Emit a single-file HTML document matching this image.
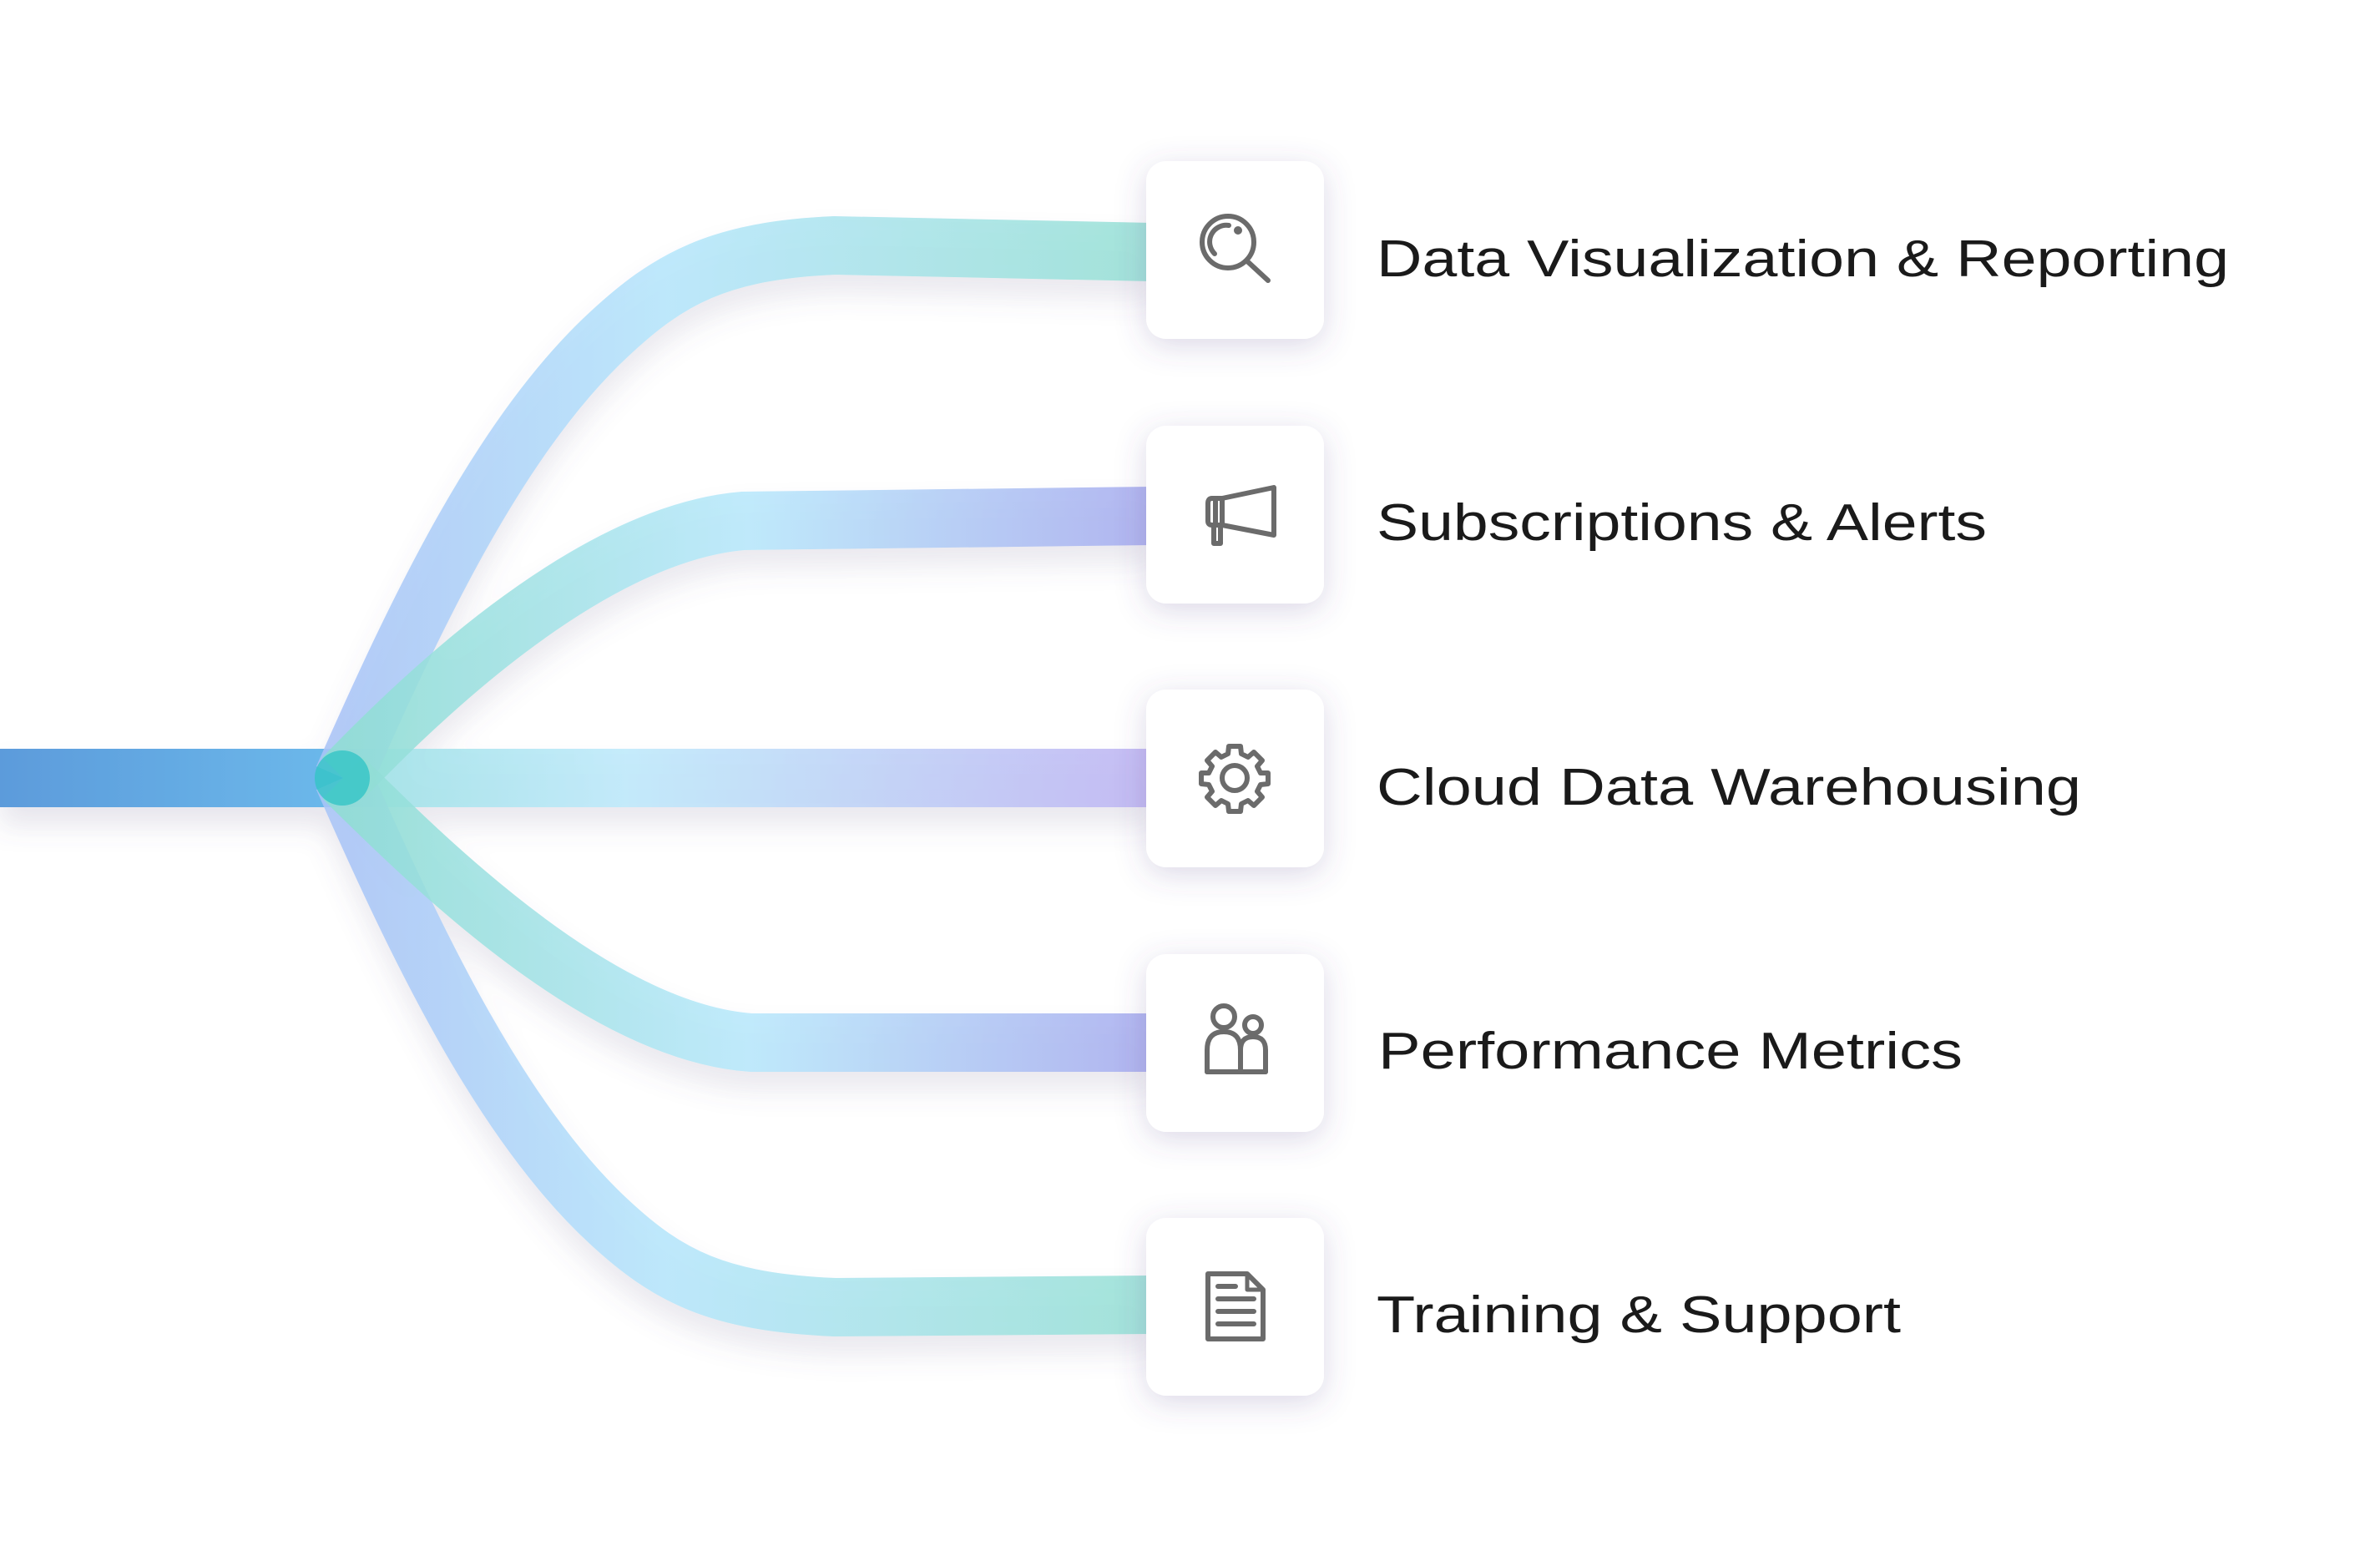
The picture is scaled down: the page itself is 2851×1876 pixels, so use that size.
<!DOCTYPE html>
<html><head><meta charset="utf-8"><style>
html,body{margin:0;padding:0;background:#fff;}
body{width:2851px;height:1876px;overflow:hidden;}
svg{display:block}
text{font-family:"Liberation Sans",sans-serif;fill:#1a1a1a;font-size:62px;}
</style></head><body>
<svg width="2851" height="1876" viewBox="0 0 2851 1876" xmlns="http://www.w3.org/2000/svg">
<defs>
<linearGradient id="gA" gradientUnits="userSpaceOnUse" x1="411" y1="0" x2="1380" y2="0">
<stop offset="0" stop-color="#a9c4f6"/><stop offset="0.4" stop-color="#b6e6fb"/><stop offset="1" stop-color="#98e0d5"/></linearGradient>
<linearGradient id="gB" gradientUnits="userSpaceOnUse" x1="411" y1="0" x2="1380" y2="0">
<stop offset="0" stop-color="#8fddd3"/><stop offset="0.5" stop-color="#b8e8fb"/><stop offset="1" stop-color="#a8acee"/></linearGradient>
<linearGradient id="gC" gradientUnits="userSpaceOnUse" x1="411" y1="0" x2="1380" y2="0">
<stop offset="0" stop-color="#9ee2e6"/><stop offset="0.35" stop-color="#bfeafb"/><stop offset="1" stop-color="#c0b6f3"/></linearGradient>
<linearGradient id="gL" gradientUnits="userSpaceOnUse" x1="0" y1="0" x2="411" y2="0">
<stop offset="0" stop-color="#5c9bdb"/><stop offset="1" stop-color="#6cb9eb"/></linearGradient>
<filter id="sh" x="-20%" y="-20%" width="140%" height="160%">
<feDropShadow dx="0" dy="22" stdDeviation="16" flood-color="#6a6090" flood-opacity="0.16"/></filter>
<filter id="bs" x="-40%" y="-40%" width="180%" height="180%">
<feDropShadow dx="0" dy="8" stdDeviation="18" flood-color="#5a5090" flood-opacity="0.22"/></filter>
</defs>
<g fill="none" stroke-width="70" filter="url(#sh)">
<path d="M0,932 L411,932" stroke="url(#gL)"/>
<path d="M411,932 L1380,932" stroke="url(#gC)" opacity="0.9"/>
<path d="M411,932 C500,730 600,520 730,400 C800,335 860,300 1000,294 L1380,302" stroke="url(#gA)" opacity="0.88"/>
<path d="M411,932 C500,1134 600,1344 730,1464 C800,1529 860,1560 1000,1566 L1380,1563" stroke="url(#gA)" opacity="0.88"/>
<path d="M411,932 C490,850 700,640 890,624 L1380,618" stroke="url(#gB)" opacity="0.88"/>
<path d="M411,932 C520,1040 720,1236 900,1249 L1380,1249" stroke="url(#gB)" opacity="0.88"/>
</g>
<circle cx="410" cy="932" r="33" fill="#33c4c6" opacity="0.8"/>
<g fill="#fff" filter="url(#bs)">
<rect x="1373" y="193" width="213" height="213" rx="24"/>
<rect x="1373" y="510" width="213" height="213" rx="24"/>
<rect x="1373" y="826" width="213" height="213" rx="24"/>
<rect x="1373" y="1143" width="213" height="213" rx="24"/>
<rect x="1373" y="1459" width="213" height="213" rx="24"/>
</g>
<g fill="none" stroke="#6b6b6b" stroke-width="6" stroke-linecap="round" stroke-linejoin="round">
<circle cx="1471" cy="290" r="31"/>
<path d="M1455,304 A20,20 0 0 1 1472,270"/>
<circle cx="1483" cy="276" r="2" fill="#6b6b6b"/>
<path d="M1493,312 L1519,336"/>
<path d="M1464,597 L1526,584 L1526,641 L1464,629 Z"/>
<path d="M1464,597 L1452,597 Q1447,597 1447,603 L1447,624 Q1447,629 1452,629 L1464,629"/>
<path d="M1454,629 L1454,651 L1462,651 L1462,629"/>
<path d="M1456,597 L1456,629"/>
<circle cx="1479" cy="932" r="15"/>
<path d="M1472,894 L1486,894 L1487,903 L1495,907 L1502,901 L1512,911 L1506,918 L1510,926 L1519,926 L1519,939 L1510,940 L1506,948 L1512,955 L1502,965 L1495,959 L1487,963 L1486,972 L1472,972 L1471,963 L1463,959 L1456,965 L1446,955 L1452,948 L1448,940 L1439,939 L1439,926 L1448,926 L1452,918 L1446,911 L1456,901 L1463,907 L1471,903 Z"/>
<circle cx="1466" cy="1218" r="13"/>
<circle cx="1501" cy="1228" r="10"/>
<path d="M1446,1284 L1446,1258 Q1446,1236 1466,1236 Q1486,1236 1486,1258 L1486,1284 Z"/>
<path d="M1486,1284 L1486,1258 Q1486,1242 1501,1242 Q1516,1242 1516,1258 L1516,1284"/>
<path d="M1446,1284 L1516,1284"/>
<path d="M1447,1526 L1494,1526 L1513,1545 L1513,1604 L1447,1604 Z"/>
<path d="M1494,1526 L1494,1545 L1513,1545" stroke-width="5"/>
<path d="M1459,1541 L1480,1541 M1459,1556 L1502,1556 M1459,1571 L1502,1571 M1459,1586 L1502,1586"/>
</g>
<text x="1649" y="331" textLength="1021" lengthAdjust="spacingAndGlyphs">Data Visualization &amp; Reporting</text>
<text x="1649" y="647" textLength="731" lengthAdjust="spacingAndGlyphs">Subscriptions &amp; Alerts</text>
<text x="1649" y="964" textLength="844" lengthAdjust="spacingAndGlyphs">Cloud Data Warehousing</text>
<text x="1651" y="1280" textLength="700" lengthAdjust="spacingAndGlyphs">Performance Metrics</text>
<text x="1649" y="1596" textLength="628" lengthAdjust="spacingAndGlyphs">Training &amp; Support</text>
</svg>
</body></html>
